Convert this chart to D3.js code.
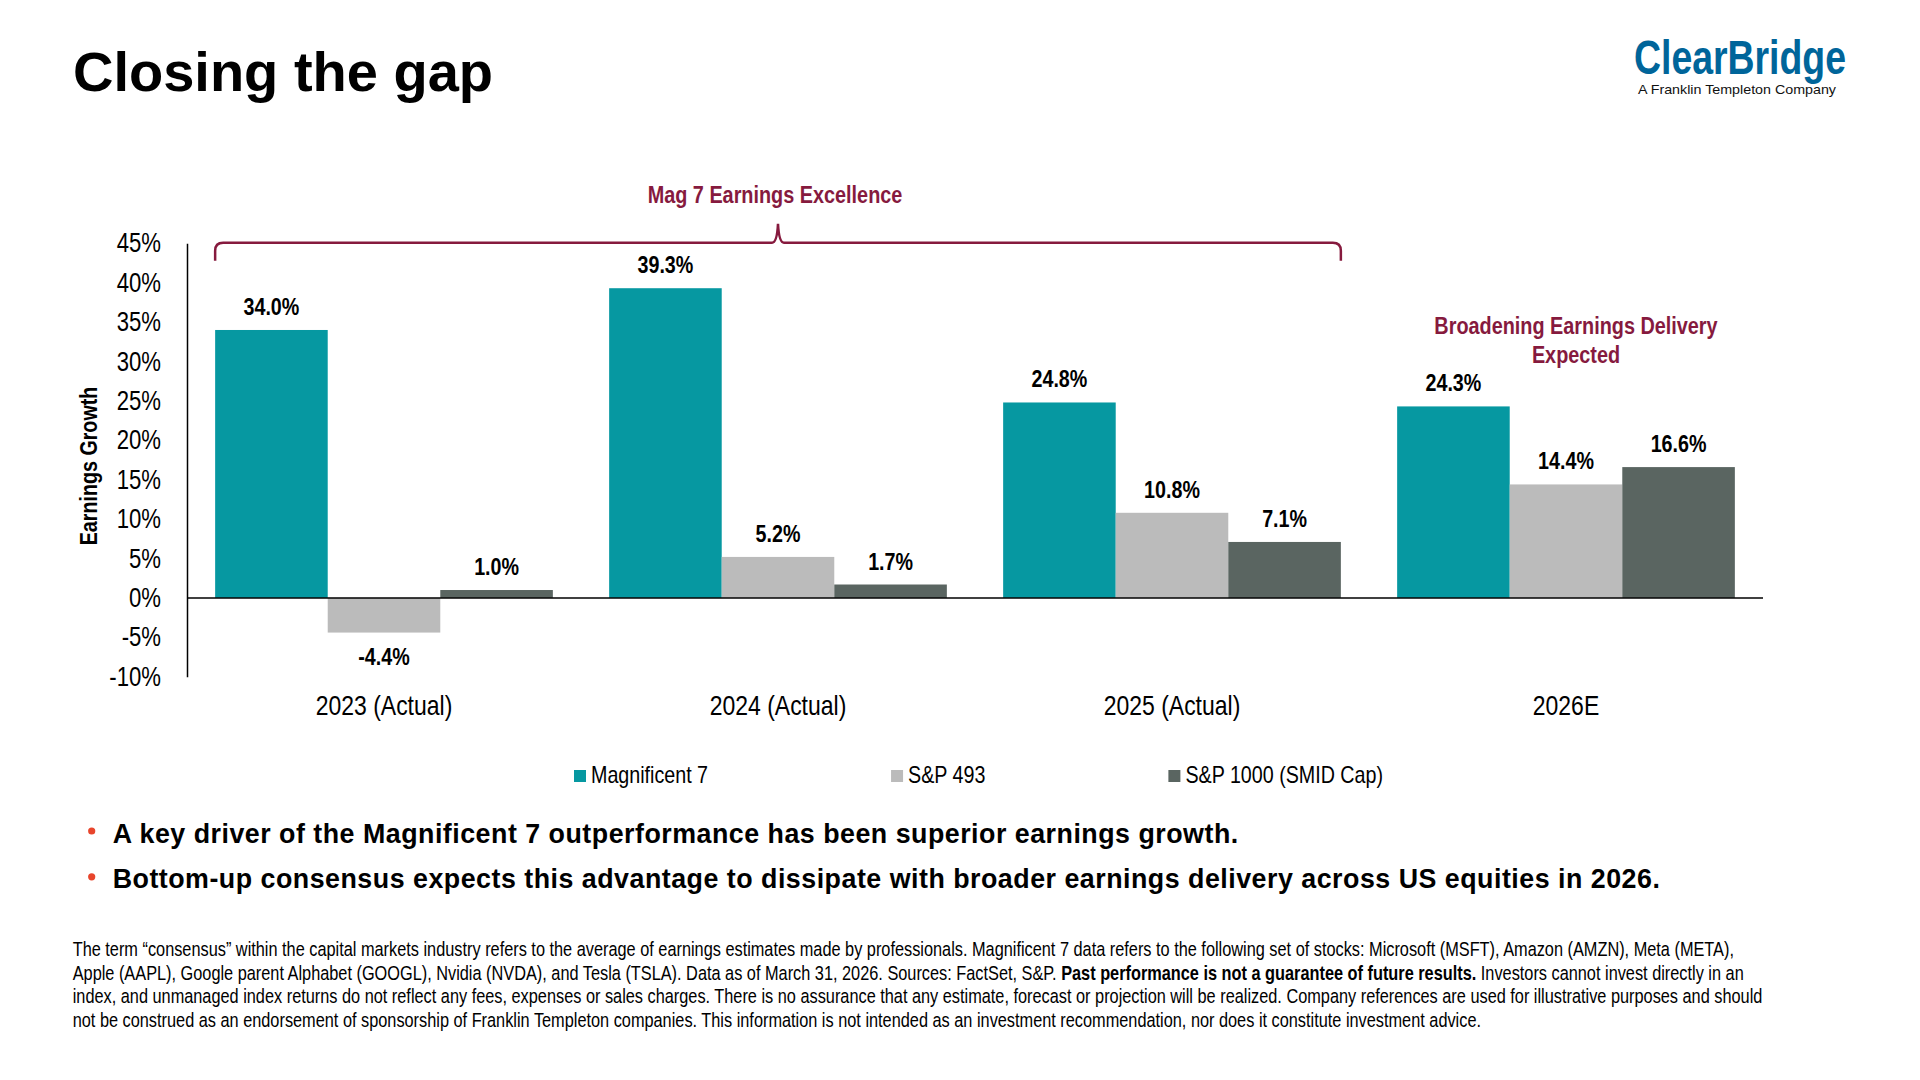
<!DOCTYPE html>
<html>
<head>
<meta charset="utf-8">
<title>Closing the gap</title>
<script src="https://cdn.jsdelivr.net/npm/d3@7"></script>
<style>
  body { margin: 0; background: #fff; }
  svg { display: block; }
</style>
</head>
<body>
<script>
// data
var categories = ["2023 (Actual)", "2024 (Actual)", "2025 (Actual)", "2026E"];
var seriesNames = ["Magnificent 7", "S&P 493", "S&P 1000 (SMID Cap)"];
var mag7 = [34.0, 39.3, 24.8, 24.3];
var sp493 = [-4.4, 5.2, 10.8, 14.4];
var smid = [1.0, 1.7, 7.1, 16.6];
var yTicks = [-10, -5, 0, 5, 10, 15, 20, 25, 30, 35, 40, 45];

var colors = ["#0698A1", "#BBBBBB", "#5A6561"];
var maroon = "#861A3E";

var arial = "'Liberation Sans', Arial, Helvetica, sans-serif";
// no Arial Narrow in the sandbox: squeeze Arial to 82% width instead
var NARROW = 0.82;

function narrow(sel) {
    sel.each(function() {
        var len = this.getComputedTextLength();
        d3.select(this)
            .attr("textLength", len * NARROW)
            .attr("lengthAdjust", "spacingAndGlyphs");
    });
}

var w = 1920;
var h = 1080;

var plot = {left: 187, right: 1763, top: 243.3, bottom: 676.7};

var svg = d3.select("body")
            .append("svg")
            .attr("width", w)
            .attr("height", h)
            .attr("font-family", arial);

// title
svg.append("text")
    .attr("x", 73)
    .attr("y", 91)
    .attr("font-weight", "bold")
    .attr("font-size", "56px")
    .attr("fill", "#000")
    .text("Closing the gap");

// logo
svg.append("text")
    .attr("x", 1634)
    .attr("y", 74)
    .attr("font-weight", "bold")
    .attr("font-size", "48px")
    .attr("fill", "#00659A")
    .attr("textLength", 212)
    .attr("lengthAdjust", "spacingAndGlyphs")
    .text("ClearBridge");

svg.append("text")
    .attr("x", 1638)
    .attr("y", 94)
    .attr("font-size", "13px")
    .attr("fill", "#111")
    .attr("textLength", 198)
    .attr("lengthAdjust", "spacingAndGlyphs")
    .text("A Franklin Templeton Company");

// scales
var x0 = d3.scaleBand()
    .domain(categories)
    .range([plot.left, plot.right])
    .padding(0);

var x1 = d3.scaleBand()
    .domain(seriesNames)
    .range([0, x0.bandwidth()])
    .paddingInner(0)
    .paddingOuter(0.25);

var y = d3.scaleLinear()
    .domain([-10, 45])
    .range([plot.bottom, plot.top]);

var table = categories.map(function(c, i) {
    return {
        category: c,
        values: [
            {name: seriesNames[0], value: mag7[i]},
            {name: seriesNames[1], value: sp493[i]},
            {name: seriesNames[2], value: smid[i]}
        ]
    };
});

// y axis
var yAxis = svg.append("g")
    .attr("transform", "translate(" + plot.left + ",0)")
    .call(d3.axisLeft(y)
        .tickValues(yTicks)
        .tickSize(0)
        .tickPadding(26)
        .tickFormat(function(d) { return d + "%"; }));

yAxis.select(".domain")
    .attr("stroke", "#000")
    .attr("stroke-width", 1.5);

yAxis.selectAll("text")
    .attr("font-family", arial)
    .attr("font-size", "27px")
    .attr("fill", "#000")
    .call(narrow);

// category labels
var xAxis = svg.append("g")
    .attr("transform", "translate(0," + plot.bottom + ")")
    .call(d3.axisBottom(x0)
        .tickSize(0)
        .tickPadding(18));

xAxis.select(".domain").remove();

xAxis.selectAll("text")
    .attr("font-family", arial)
    .attr("font-size", "28px")
    .attr("fill", "#000")
    .call(narrow);

// y axis title
svg.append("text")
    .attr("transform", "translate(97,466) rotate(-90)")
    .attr("text-anchor", "middle")
    .attr("font-weight", "bold")
    .attr("font-size", "24px")
    .attr("fill", "#000")
    .text("Earnings Growth")
    .call(narrow);

// bars
var groups = svg.selectAll("g.group")
    .data(table)
    .enter()
    .append("g")
    .attr("class", "group")
    .attr("transform", function(d) { return "translate(" + x0(d.category) + ",0)"; });

groups.selectAll("rect")
    .data(function(d) { return d.values; })
    .enter()
    .append("rect")
    .attr("x", function(d) { return x1(d.name); })
    .attr("y", function(d) { return y(Math.max(0, d.value)); })
    .attr("width", x1.bandwidth())
    .attr("height", function(d) { return Math.abs(y(d.value) - y(0)); })
    .attr("fill", function(d, i) { return colors[i]; });

groups.selectAll("text.val")
    .data(function(d) { return d.values; })
    .enter()
    .append("text")
    .attr("class", "val")
    .attr("x", function(d) { return x1(d.name) + x1.bandwidth() / 2; })
    .attr("y", function(d) {
        return d.value >= 0 ? y(d.value) - 15 : y(d.value) + 32;
    })
    .attr("text-anchor", "middle")
    .attr("font-weight", "bold")
    .attr("font-size", "24px")
    .attr("fill", "#000")
    .text(function(d) { return d.value.toFixed(1) + "%"; })
    .call(narrow);

// zero line
svg.append("line")
    .attr("x1", plot.left)
    .attr("x2", plot.right)
    .attr("y1", y(0))
    .attr("y2", y(0))
    .attr("stroke", "#000")
    .attr("stroke-width", 1.5);

// bracket over the actual years
var bx0 = x0(categories[0]) + x1(seriesNames[0]);
var bx1 = x0(categories[2]) + x1(seriesNames[2]) + x1.bandwidth();
var bcx = (bx0 + bx1) / 2;
var by = 242.7;
var r = 8;

var bracket = d3.path();
bracket.moveTo(bx0, by + 18);
bracket.lineTo(bx0, by + r);
bracket.quadraticCurveTo(bx0, by, bx0 + r, by);
bracket.lineTo(bcx - 6, by);
bracket.quadraticCurveTo(bcx - 1, by, bcx, by - 19);
bracket.quadraticCurveTo(bcx + 1, by, bcx + 6, by);
bracket.lineTo(bx1 - r, by);
bracket.quadraticCurveTo(bx1, by, bx1, by + r);
bracket.lineTo(bx1, by + 18);

svg.append("path")
    .attr("d", bracket.toString())
    .attr("fill", "none")
    .attr("stroke", maroon)
    .attr("stroke-width", 2.5);

svg.append("text")
    .attr("x", bcx - 3)
    .attr("y", 202.7)
    .attr("text-anchor", "middle")
    .attr("font-weight", "bold")
    .attr("font-size", "24.2px")
    .attr("fill", maroon)
    .text("Mag 7 Earnings Excellence")
    .call(narrow);

var noteX = x0(categories[3]) + x0.bandwidth() / 2 + 10;
["Broadening Earnings Delivery", "Expected"].forEach(function(s, i) {
    svg.append("text")
        .attr("x", noteX)
        .attr("y", 334 + i * 29)
        .attr("text-anchor", "middle")
        .attr("font-weight", "bold")
        .attr("font-size", "24.2px")
        .attr("fill", maroon)
        .text(s)
        .call(narrow);
});

// legend
var legend = svg.append("g")
    .attr("transform", "translate(574,0)");

var lx = 0;
seriesNames.forEach(function(name, i) {
    var item = legend.append("g")
        .attr("transform", "translate(" + lx + ",0)");
    item.append("rect")
        .attr("x", 0)
        .attr("y", 770)
        .attr("width", 12)
        .attr("height", 12)
        .attr("fill", colors[i]);
    var t = item.append("text")
        .attr("x", 17)
        .attr("y", 783.3)
        .attr("font-size", "24px")
        .attr("fill", "#000")
        .text(name)
        .call(narrow);
    lx += 17 + (+t.attr("textLength")) + 183;
});

// bullets
var bullets = [
    "A key driver of the Magnificent 7 outperformance has been superior earnings growth.",
    "Bottom-up consensus expects this advantage to dissipate with broader earnings delivery across US equities in 2026."
];

bullets.forEach(function(b, i) {
    var base = 842.5 + i * 45.8;
    svg.append("circle")
        .attr("cx", 91.7)
        .attr("cy", base - 11.5)
        .attr("r", 3.6)
        .attr("fill", "#E8452C");
    svg.append("text")
        .attr("x", 112.7)
        .attr("y", base)
        .attr("font-weight", "bold")
        .attr("font-size", "26.8px")
        .attr("letter-spacing", "0.5px")
        .attr("fill", "#000")
        .text(b);
});

// footnote
var foot = [
    [["The term \u201cconsensus\u201d within the capital markets industry refers to the average of earnings estimates made by professionals. Magnificent 7 data refers to the following set of stocks: Microsoft (MSFT), Amazon (AMZN), Meta (META),", false]],
    [["Apple (AAPL), Google parent Alphabet (GOOGL), Nvidia (NVDA), and Tesla (TSLA). Data as of March 31, 2026. Sources: FactSet, S&P. ", false],
     ["Past performance is not a guarantee of future results.", true],
     [" Investors cannot invest directly in an", false]],
    [["index, and unmanaged index returns do not reflect any fees, expenses or sales charges. There is no assurance that any estimate, forecast or projection will be realized. Company references are used for illustrative purposes and should", false]],
    [["not be construed as an endorsement of sponsorship of Franklin Templeton companies. This information is not intended as an investment recommendation, nor does it constitute investment advice.", false]]
];

foot.forEach(function(line, i) {
    var t = svg.append("text")
        .attr("x", 72.7)
        .attr("y", 956 + i * 23.6)
        .attr("font-size", "19.9px")
        .attr("fill", "#000");
    line.forEach(function(part) {
        t.append("tspan")
            .attr("font-weight", part[1] ? "bold" : "normal")
            .text(part[0]);
    });
    t.call(narrow);
});
</script>
</body>
</html>
